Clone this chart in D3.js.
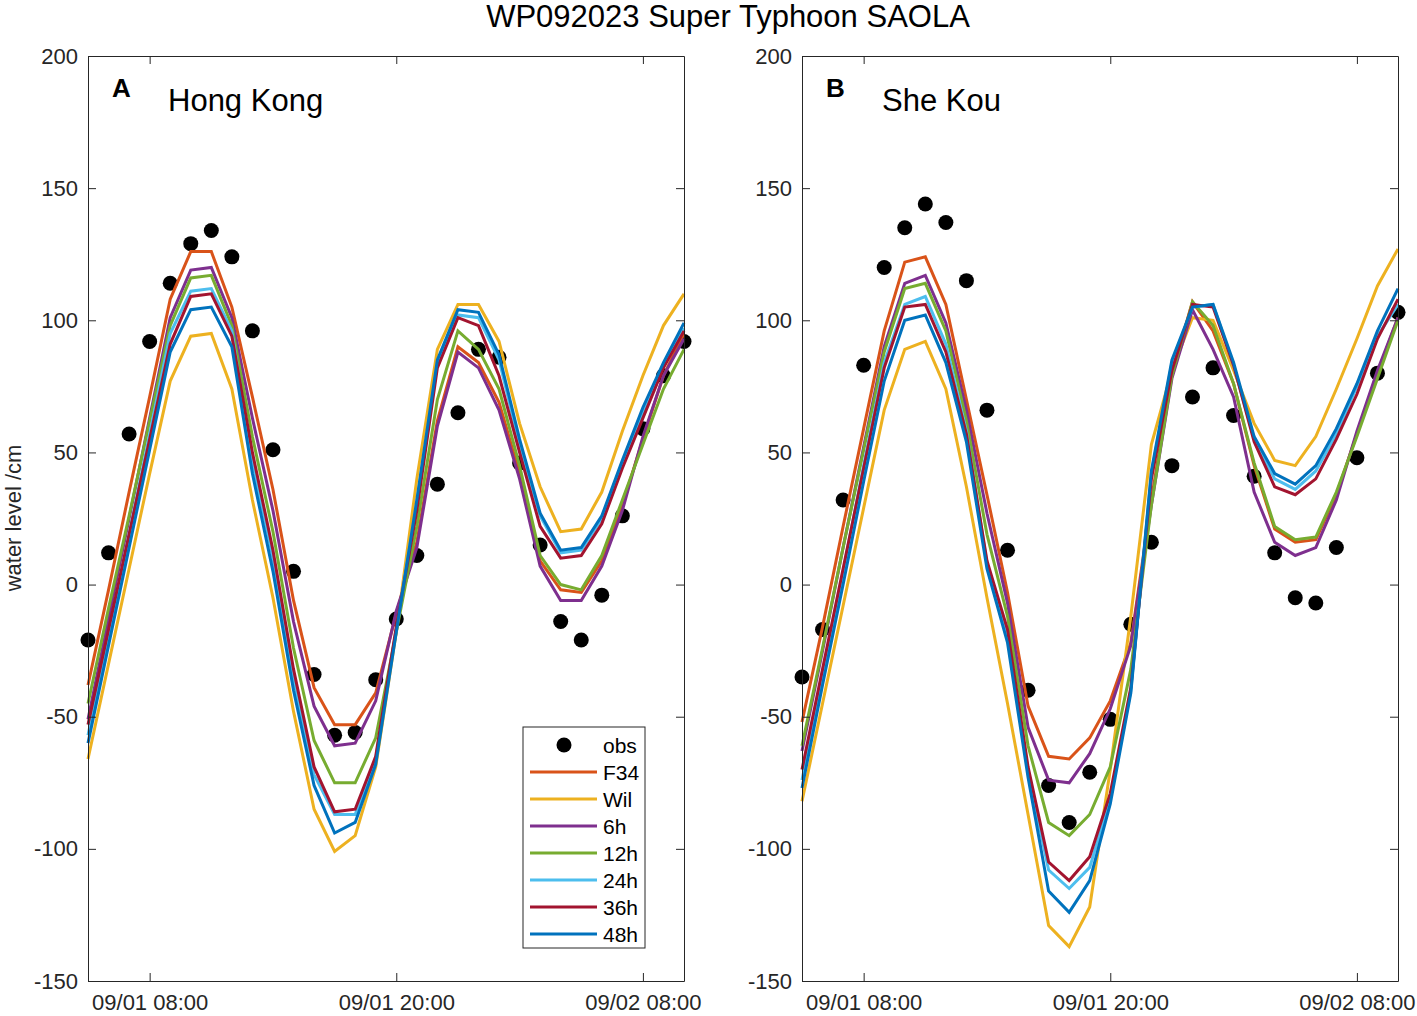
<!DOCTYPE html>
<html>
<head>
<meta charset="utf-8">
<script src="https://cdn.jsdelivr.net/npm/d3@7"></script>
<style>
  body { margin: 0; background: #fff; }
  svg { font-family: Arial, "Liberation Sans", Helvetica, sans-serif; }
  .tick text { fill: #262626; font-size: 22px; }
  .tick line, .domain { stroke: #262626; }
</style>
</head>
<body>
<svg width="1417" height="1016"></svg>
<script>
// hourly time stamps, 09/01 05:00 .. 09/02 10:00
const hours = [
  "2023-09-01T05:00", "2023-09-01T06:00", "2023-09-01T07:00", "2023-09-01T08:00",
  "2023-09-01T09:00", "2023-09-01T10:00", "2023-09-01T11:00", "2023-09-01T12:00",
  "2023-09-01T13:00", "2023-09-01T14:00", "2023-09-01T15:00", "2023-09-01T16:00",
  "2023-09-01T17:00", "2023-09-01T18:00", "2023-09-01T19:00", "2023-09-01T20:00",
  "2023-09-01T21:00", "2023-09-01T22:00", "2023-09-01T23:00", "2023-09-02T00:00",
  "2023-09-02T01:00", "2023-09-02T02:00", "2023-09-02T03:00", "2023-09-02T04:00",
  "2023-09-02T05:00", "2023-09-02T06:00", "2023-09-02T07:00", "2023-09-02T08:00",
  "2023-09-02T09:00", "2023-09-02T10:00"
];
const xTicks = ["2023-09-01T08:00", "2023-09-01T20:00", "2023-09-02T08:00"];
const yTicks = [-150, -100, -50, 0, 50, 100, 150, 200];

const seriesNames = ["F34", "Wil", "6h", "12h", "24h", "36h", "48h"];

// Hong Kong
const hkObs = [-21, 12, 57, 92, 114, 129, 134, 124, 96, 51, 5, -34, -57, -56, -36, -13, 11, 38, 65, 89, 86, 46, 15, -14, -21, -4, 26, 59, 79, 92];
const hkF34 = [-38, -2, 35, 71, 108, 126, 126, 105, 71, 36, -6, -39, -53, -53, -41, -11, 16, 62, 90, 84, 69, 42, 9, -2, -3, 9, 30, 55, 79, 95];
const hkWil = [-66, -30, 6, 42, 77, 94, 95, 74, 32, -5, -48, -85, -101, -95, -69, -18, 40, 89, 106, 106, 92, 61, 37, 20, 21, 35, 58, 79, 98, 110];
const hk6h  = [-51, -13, 25, 63, 101, 119, 120, 101, 63, 28, -14, -46, -61, -60, -44, -10, 14, 60, 88, 82, 66, 40, 7, -6, -6, 7, 28, 56, 79, 93];
const hk12h = [-45, -9, 26, 62, 98, 116, 117, 98, 56, 20, -24, -59, -75, -75, -58, -18, 22, 70, 96, 89, 74, 45, 11, 0, -2, 11, 32, 53, 74, 89];
const hk24h = [-57, -19, 19, 57, 95, 111, 112, 96, 46, 10, -36, -72, -87, -87, -66, -17, 31, 84, 102, 101, 85, 53, 26, 12, 13, 25, 46, 65, 83, 97];
const hk36h = [-53, -17, 19, 55, 91, 109, 110, 94, 50, 13, -32, -69, -86, -85, -65, -16, 28, 82, 101, 98, 79, 50, 22, 10, 11, 23, 44, 63, 82, 96];
const hk48h = [-60, -23, 14, 51, 88, 104, 105, 90, 42, 5, -40, -76, -94, -90, -68, -18, 32, 85, 104, 103, 87, 55, 27, 13, 14, 26, 47, 67, 84, 99];

// She Kou
const skObs = [-35, -17, 32, 83, 120, 135, 144, 137, 115, 66, 13, -40, -76, -90, -71, -51, -15, 16, 45, 71, 82, 64, 41, 12, -5, -7, 14, 48, 80, 103];
const skF34 = [-52, -16, 22, 59, 96, 122, 124, 106, 70, 34, -3, -46, -65, -66, -58, -44, -22, 32, 80, 107, 96, 76, 45, 21, 16, 17, 34, 57, 80, 101];
const skWil = [-82, -45, -8, 29, 66, 89, 92, 74, 37, -5, -45, -87, -129, -137, -122, -70, -12, 53, 81, 101, 100, 81, 61, 47, 45, 56, 74, 93, 113, 127];
const sk6h  = [-63, -25, 14, 52, 90, 114, 117, 99, 66, 27, -7, -54, -74, -75, -64, -47, -23, 30, 78, 104, 89, 71, 35, 16, 11, 14, 32, 58, 81, 101];
const sk12h = [-61, -24, 14, 51, 88, 112, 114, 96, 62, 19, -12, -61, -90, -95, -87, -69, -32, 30, 79, 107, 98, 76, 46, 22, 17, 18, 35, 56, 78, 100];
const sk24h = [-74, -35, 5, 45, 84, 106, 109, 91, 58, 8, -20, -71, -108, -115, -107, -81, -40, 42, 84, 105, 106, 83, 55, 40, 36, 43, 57, 75, 94, 106];
const sk36h = [-70, -32, 6, 44, 82, 105, 106, 88, 57, 9, -17, -69, -105, -112, -103, -79, -39, 40, 81, 106, 105, 83, 54, 37, 34, 40, 55, 72, 93, 108];
const sk48h = [-77, -38, 0, 39, 77, 100, 102, 84, 54, 6, -22, -73, -116, -124, -112, -83, -41, 43, 85, 105, 106, 84, 56, 42, 38, 45, 59, 76, 96, 112];

const colors = {
  F34: "#D95319", Wil: "#EDB120", "6h": "#7E2F8E", "12h": "#77AC30",
  "24h": "#4DBEEE", "36h": "#A2142F", "48h": "#0072BD"
};

const parseTime = d3.utcParse("%Y-%m-%dT%H:%M");
const times = hours.map(parseTime);

const svg = d3.select("svg");

svg.append("text")
  .attr("x", 728)
  .attr("y", 27)
  .attr("text-anchor", "middle")
  .attr("font-size", 31)
  .attr("fill", "#000")
  .text("WP092023 Super Typhoon SAOLA");

svg.append("text")
  .attr("transform", "translate(21, 518) rotate(-90)")
  .attr("text-anchor", "middle")
  .attr("font-size", 22)
  .attr("fill", "#262626")
  .text("water level /cm");

function drawPanel(left, letter, station, obs, series, withLegend)
{
  const width = 596, top = 56, bottom = 981;
  const x = d3.scaleUtc()
    .domain([times[0], times[times.length - 1]])
    .range([left, left + width]);
  const y = d3.scaleLinear().domain([-150, 200]).range([bottom, top]);

  const g = svg.append("g");

  g.append("rect")
    .attr("x", left).attr("y", top)
    .attr("width", width).attr("height", bottom - top)
    .attr("fill", "#fff");

  // obs dots
  g.append("g")
    .selectAll("circle")
    .data(obs)
    .join("circle")
    .attr("cx", (d, i) => x(times[i]))
    .attr("cy", (d) => y(d))
    .attr("r", 7.5)
    .attr("fill", "#000");

  const line = d3.line()
    .x((d, i) => x(times[i]))
    .y((d) => y(d));

  series.forEach((values, k) =>
  {
    g.append("path")
      .datum(values)
      .attr("d", line)
      .attr("fill", "none")
      .attr("stroke", colors[seriesNames[k]])
      .attr("stroke-width", 3);
  });

  const tickDates = xTicks.map(parseTime);
  const fmt = d3.utcFormat("%m/%d %H:%M");

  g.append("g")
    .attr("transform", `translate(${ left }, 0)`)
    .call(d3.axisLeft(y).tickValues(yTicks).tickSizeInner(-8).tickSizeOuter(0)
      .tickPadding(10).tickFormat((d) => String(d)));
  g.append("g")
    .attr("transform", `translate(${ left + width }, 0)`)
    .call(d3.axisRight(y).tickValues(yTicks).tickSizeInner(-8).tickSizeOuter(0).tickFormat(""));
  g.append("g")
    .attr("transform", `translate(0, ${ bottom })`)
    .call(d3.axisBottom(x).tickValues(tickDates).tickSizeInner(-8).tickSizeOuter(0).tickPadding(13).tickFormat(fmt));
  g.append("g")
    .attr("transform", `translate(0, ${ top })`)
    .call(d3.axisTop(x).tickValues(tickDates).tickSizeInner(-8).tickSizeOuter(0).tickFormat(""));

  g.append("text")
    .attr("x", left + 24).attr("y", 97)
    .attr("font-size", 26).attr("font-weight", "bold")
    .text(letter);
  g.append("text")
    .attr("x", left + 80).attr("y", 111)
    .attr("font-size", 31)
    .text(station);

  if (withLegend)
  {
    const lg = g.append("g").attr("transform", "translate(523, 727)");
    lg.append("rect")
      .attr("width", 122).attr("height", 221)
      .attr("fill", "#fff").attr("stroke", "#262626").attr("stroke-width", 1);
    const rowY = (i) => 18 + i * 27;
    lg.append("circle")
      .attr("cx", 41).attr("cy", rowY(0)).attr("r", 7.5).attr("fill", "#000");
    lg.append("text")
      .attr("x", 80).attr("y", rowY(0) + 8)
      .attr("font-size", 21).attr("fill", "#000").text("obs");
    seriesNames.forEach((name, k) =>
    {
      lg.append("line")
        .attr("x1", 7).attr("x2", 74)
        .attr("y1", rowY(k + 1)).attr("y2", rowY(k + 1))
        .attr("stroke", colors[name]).attr("stroke-width", 3);
      lg.append("text")
        .attr("x", 80).attr("y", rowY(k + 1) + 8)
        .attr("font-size", 21).attr("fill", "#000").text(name);
    });
  }
}

drawPanel(88, "A", "Hong Kong", hkObs, [hkF34, hkWil, hk6h, hk12h, hk24h, hk36h, hk48h], true);
drawPanel(802, "B", "She Kou", skObs, [skF34, skWil, sk6h, sk12h, sk24h, sk36h, sk48h], false);
</script>
</body>
</html>
